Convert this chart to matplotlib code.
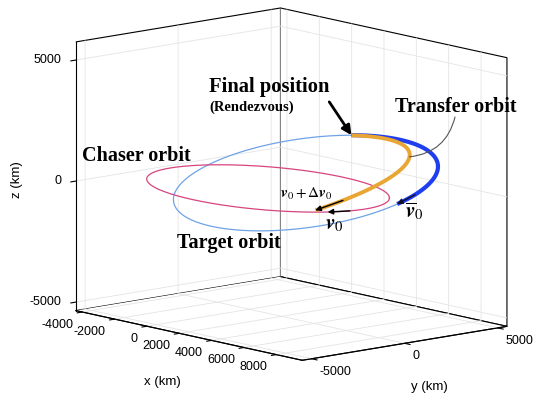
import numpy as np
import matplotlib
matplotlib.use('Agg')
import matplotlib.pyplot as plt
from mpl_toolkits.mplot3d import proj3d

plt.rcParams['mathtext.fontset'] = 'stix'
plt.rcParams['font.family'] = ['Liberation Sans', 'DejaVu Sans']

# ---- axes ----
x_ticks = [-4000, -2000, 0, 2000, 4000, 6000, 8000]
y_ticks = [-5000, 0, 5000]
z_ticks = [-5000, 0, 5000]
x_lim = (-4400, 9600)
y_lim = (-5500, 5500)
z_lim = (-5350, 5750)

# ---- orbits (km): centre + two conjugate semi-axis vectors, plane z = 0 ----
target_center = [2028, 1267, 0]
target_axis1 = [777, 6433, 0]
target_axis2 = [-7213, 6177, 0]

chaser_center = [1897, -641, 0]
chaser_axis1 = [4722, 2417, 0]
chaser_axis2 = [-3518, 3012, 0]

transfer_center = [1173, -3025, 0]
transfer_axis1 = [-955, 11453, 0]
transfer_axis2 = [-6970, 5968, 0]

# arcs (deg of orbit parameter)
transfer_arc = (-59, 44.5)
target_arc = (-47, 69)
# velocity arrows (tail, head) parameters
arrow_dv = (-49, -59)      # on transfer orbit
arrow_v0 = (-48, -61)      # on chaser orbit
arrow_vbar = (-35, -47)    # on target orbit
final_t = 69               # on target orbit
leader_t = -3              # on transfer orbit


def orbit(c, a, b, t_deg):
    t = np.radians(np.asarray(t_deg, dtype=float))
    c, a, b = map(np.asarray, (c, a, b))
    pts = c[:, None] + np.outer(a, np.cos(t)) + np.outer(b, np.sin(t))
    return pts


W, H = 533.0, 397.0
fig = plt.figure(figsize=(5.33, 3.97), dpi=100)
ax = fig.add_axes([19.5 / W, 9.0 / H, 1.0, 1.0], projection='3d', proj_type='ortho')
ax.set_xlim(*x_lim)
ax.set_ylim(*y_lim)
ax.set_zlim(*z_lim)
ax.set_box_aspect((x_lim[1] - x_lim[0], y_lim[1] - y_lim[0], z_lim[1] - z_lim[0]), zoom=1.265)
ax.view_init(elev=11, azim=-41)
ax.set_xticks(x_ticks)
ax.set_yticks(y_ticks)
ax.set_zticks(z_ticks)
ax.set_xticklabels([''] * len(x_ticks))
ax.set_yticklabels([''] * len(y_ticks))
ax.set_zticklabels([''] * len(z_ticks))
ax.zaxis.set_ticks_position('lower')

for axis in (ax.xaxis, ax.yaxis, ax.zaxis):
    axis.set_pane_color((1, 1, 1, 1))
    axis.pane.set_edgecolor('black')
    axis.pane.set_linewidth(0.8)
    axis._axinfo['grid']['color'] = '#e4e4e4'
    axis._axinfo['grid']['linewidth'] = 0.6
    axis._axinfo['tick']['inward_factor'] = 0.3
    axis._axinfo['tick']['outward_factor'] = 0.0
    axis.line.set_color('black')
    axis.line.set_linewidth(0.8)

full = np.linspace(0, 360, 400)
tg = orbit(target_center, target_axis1, target_axis2, full)
ch = orbit(chaser_center, chaser_axis1, chaser_axis2, full)
ax.plot(*tg, color='#6fa3e6', lw=0.9)
ax.plot(*ch, color='#d6457e', lw=0.9)

tb = orbit(target_center, target_axis1, target_axis2, np.linspace(*target_arc, 100))
ax.plot(*tb, color='#1f3ef0', lw=3.0, solid_capstyle='butt')
tr = orbit(transfer_center, transfer_axis1, transfer_axis2, np.linspace(*transfer_arc, 100))
ax.plot(*tr, color='#e9a634', lw=2.8, solid_capstyle='butt')

M = ax.get_proj()


def p2(pt):
    x, y, _ = proj3d.proj_transform(pt[0], pt[1], pt[2], M)
    return (x, y)


PT = 72.0 / 100.0  # points per pixel

# tick labels placed beside the projected tick positions
tick_kw = dict(fontsize=9, textcoords='offset points', va='center', annotation_clip=False)
for xv in x_ticks:
    ax.annotate(f'{xv:d}', xy=p2((xv, y_lim[0], z_lim[0])),
                xytext=(-9 * PT, -12.5 * PT), ha='right', **tick_kw)
for yv in y_ticks:
    ax.annotate(f'{yv:d}', xy=p2((x_lim[1], yv, z_lim[0])),
                xytext=(8 * PT, -13 * PT), ha='left', **tick_kw)
for zv in z_ticks:
    ax.annotate(f'{zv:d}', xy=p2((x_lim[0], y_lim[0], zv)),
                xytext=(-14 * PT, 0), ha='right', **tick_kw)


def arrow_on(c, a, b, ts, color):
    p = orbit(c, a, b, ts)
    ax.annotate('', xy=p2(p[:, 1]), xytext=p2(p[:, 0]), xycoords='data',
                annotation_clip=False,
                arrowprops=dict(arrowstyle='-|>', color=color, lw=1.0,
                                mutation_scale=8, shrinkA=0, shrinkB=0))


arrow_on(transfer_center, transfer_axis1, transfer_axis2, arrow_dv, 'black')
arrow_on(chaser_center, chaser_axis1, chaser_axis2, arrow_v0, 'black')
arrow_on(target_center, target_axis1, target_axis2, arrow_vbar, '#101030')

fp = orbit(target_center, target_axis1, target_axis2, [final_t])[:, 0]
ax.annotate('', xy=p2(fp), xytext=(-16, 24), textcoords='offset points',
            annotation_clip=False,
            arrowprops=dict(arrowstyle='-|>', color='black', lw=2.0,
                            mutation_scale=14, shrinkA=0, shrinkB=0))

trp = orbit(transfer_center, transfer_axis1, transfer_axis2, [leader_t])[:, 0]
ax.annotate('', xy=p2(trp), xytext=(455 / W, 1 - 117 / H), textcoords='figure fraction',
            annotation_clip=False,
            arrowprops=dict(arrowstyle='-', color='#555555', lw=0.8,
                            connectionstyle='arc3,rad=-0.35', shrinkA=0, shrinkB=0))


def ftext(px, py, s, **kw):
    fig.text(px / W, 1 - py / H, s, **kw)


serif = dict(family='Liberation Serif', fontweight='bold')
ftext(209, 92, 'Final position', fontsize=14.8, ha='left', va='baseline', **serif)
ftext(209, 111, '(Rendezvous)', fontsize=10.5, ha='left', va='baseline', **serif)
ftext(395, 112, 'Transfer orbit', fontsize=14.5, ha='left', va='baseline', **serif)
ftext(82, 161, 'Chaser orbit', fontsize=14.5, ha='left', va='baseline', **serif)
ftext(177, 248, 'Target orbit', fontsize=14.5, ha='left', va='baseline', **serif)
ftext(306, 194, r'$\mathbfit{v}_0+\Delta\mathbfit{v}_0$', fontsize=11, ha='center', va='center')
ftext(334, 225, r'$\mathbfit{v}_0$', fontsize=15, ha='center', va='center')
ftext(414, 211, r'$\overline{\mathbfit{v}}_0$', fontsize=15, ha='center', va='center')

ftext(162, 382, 'x (km)', fontsize=9.5, ha='center', va='center')
ftext(429, 387, 'y (km)', fontsize=9.5, ha='center', va='center')
ftext(17, 180, 'z (km)', fontsize=9.5, ha='center', va='center', rotation=90)

fig.savefig('out.png', dpi=100)
